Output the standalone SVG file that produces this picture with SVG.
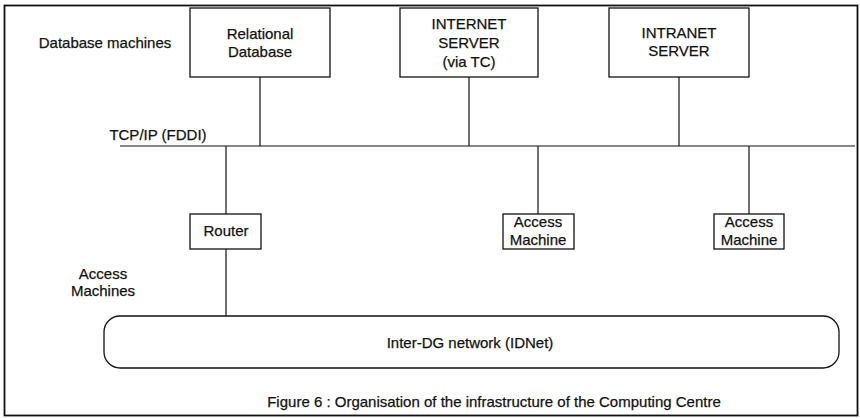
<svg xmlns="http://www.w3.org/2000/svg" width="860" height="418" viewBox="0 0 860 418">
<style>
text{font-family:"Liberation Sans",Arial,sans-serif;font-size:15px;fill:#111;stroke:#111;stroke-width:0.25;text-anchor:middle}
.box{fill:#fff;stroke:#111;stroke-width:1.3}
.ln{stroke:#111;stroke-width:1.2;fill:none}
</style>
<rect x="0" y="0" width="860" height="418" fill="#fff"/>
<rect id="frame" x="4.5" y="5.5" width="853" height="410" fill="none" stroke="#111" stroke-width="1.8"/>
<g id="connectors">
<line class="ln" x1="120" y1="146" x2="855" y2="146"/>
<line class="ln" x1="260" y1="77" x2="260" y2="146"/>
<line class="ln" x1="469" y1="77" x2="469" y2="146"/>
<line class="ln" x1="679" y1="77" x2="679" y2="146"/>
<line class="ln" x1="226" y1="146" x2="226" y2="214"/>
<line class="ln" x1="538" y1="146" x2="538" y2="214"/>
<line class="ln" x1="749" y1="146" x2="749" y2="214"/>
<line class="ln" x1="226" y1="249" x2="226" y2="316"/>
</g>
<g id="labels">
<text x="105" y="48">Database machines</text>
<text x="158" y="140">TCP/IP (FDDI)</text>
<text x="103" y="279">Access</text>
<text x="103" y="296">Machines</text>
<text x="494" y="407">Figure 6 : Organisation of the infrastructure of the Computing Centre</text>
</g>
<g id="relational">
<rect class="box" x="190" y="8" width="140" height="69"/>
<text x="260" y="39">Relational</text>
<text x="260" y="57">Database</text>
</g>
<g id="internet">
<rect class="box" x="400" y="8" width="138" height="69"/>
<text x="469" y="29">INTERNET</text>
<text x="469" y="48">SERVER</text>
<text x="469" y="67">(via TC)</text>
</g>
<g id="intranet">
<rect class="box" x="609" y="8" width="140" height="69"/>
<text x="679" y="38">INTRANET</text>
<text x="679" y="56">SERVER</text>
</g>
<g id="router">
<rect class="box" x="190" y="214" width="71" height="35"/>
<text x="226" y="236">Router</text>
</g>
<g id="access1">
<rect class="box" x="503" y="214" width="71" height="35"/>
<text x="538" y="227">Access</text>
<text x="538" y="245">Machine</text>
</g>
<g id="access2">
<rect class="box" x="714" y="214" width="70" height="35"/>
<text x="749" y="227">Access</text>
<text x="749" y="245">Machine</text>
</g>
<g id="idnet">
<rect class="box" x="104" y="316" width="735" height="52" rx="16" ry="16"/>
<text x="470" y="348">Inter-DG network (IDNet)</text>
</g>
</svg>
